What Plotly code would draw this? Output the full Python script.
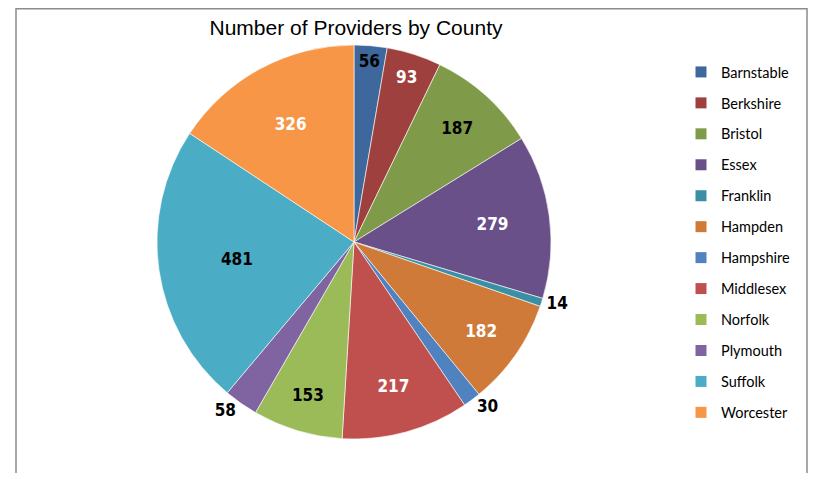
import plotly.graph_objects as go

counties = ["Barnstable", "Berkshire", "Bristol", "Essex", "Franklin", "Hampden",
            "Hampshire", "Middlesex", "Norfolk", "Plymouth", "Suffolk", "Worcester"]
providers = [56, 93, 187, 279, 14, 182, 30, 217, 153, 58, 481, 326]

colors = ["#3E689C", "#9E403E", "#7F9A48", "#695089", "#3A8FA5", "#CF7A38",
          "#5082C0", "#C0504D", "#9BBB59", "#8064A2", "#4BACC6", "#F79646"]
text_colors = ["black", "white", "black", "white", "black", "white",
               "black", "white", "black", "black", "black", "white"]
text_pos = ["inside", "inside", "inside", "inside", "outside", "inside",
            "outside", "inside", "inside", "outside", "inside", "inside"]

# the page body has an 8px margin: lay out in figure pixels = page pixels - 8
OFF = 8
W, H = 816 - 2 * OFF, 481 - 2 * OFF
cx, cy, r = 354 - OFF, 242 - OFF, 197
label_font = "Liberation Sans Narrow, DejaVu Sans Condensed, sans-serif"


def px(x):
    return (x - OFF) / W


def py(y):
    return 1 - (y - OFF) / H


fig = go.Figure()
fig.add_trace(go.Pie(
    labels=counties,
    values=providers,
    sort=False,
    direction="clockwise",
    rotation=0,
    showlegend=False,
    marker=dict(colors=colors, line=dict(color="white", width=0.6)),
    textinfo="value",
    textposition=text_pos,
    insidetextorientation="horizontal",
    textfont=dict(family=label_font, size=17, color=text_colors, weight="bold"),
    outsidetextfont=dict(family=label_font, size=17, color="black", weight="bold"),
    domain=dict(x=[(cx - r) / W, (cx + r) / W], y=[(H - cy - r) / H, (H - cy + r) / H]),
))

# legend entries (one per county, same colours as the slices)
for name, col in zip(counties, colors):
    fig.add_trace(go.Scatter(
        x=[None], y=[None], mode="markers", name=name, legendgroup=name,
        marker=dict(symbol="square", size=11, color=col), hoverinfo="skip",
    ))

fig.update_layout(
    width=W, height=H,
    margin=dict(l=0, r=0, t=0, b=0, autoexpand=False),
    paper_bgcolor="white",
    plot_bgcolor="white",
    xaxis=dict(visible=False),
    yaxis=dict(visible=False),
    title=dict(text="Number of Providers by County", x=px(356), xanchor="center",
               y=py(28), yanchor="middle",
               font=dict(family="Liberation Sans, Arial, sans-serif", size=21, color="black")),
    legend=dict(x=px(681), y=py(56), xanchor="left", yanchor="top",
                traceorder="grouped", tracegroupgap=9.1,
                font=dict(family="Lato, sans-serif", size=14.5, color="black"),
                itemwidth=30, bgcolor="rgba(0,0,0,0)"),
    showlegend=True,
    shapes=[dict(type="rect", xref="paper", yref="paper",
                 x0=px(16), x1=(W - 1) / W, y0=-0.05, y1=1 - 0.8 / H,
                 line=dict(color="#8C8C8C", width=1.5), fillcolor="rgba(0,0,0,0)")],
)

fig.write_html("out.html")
